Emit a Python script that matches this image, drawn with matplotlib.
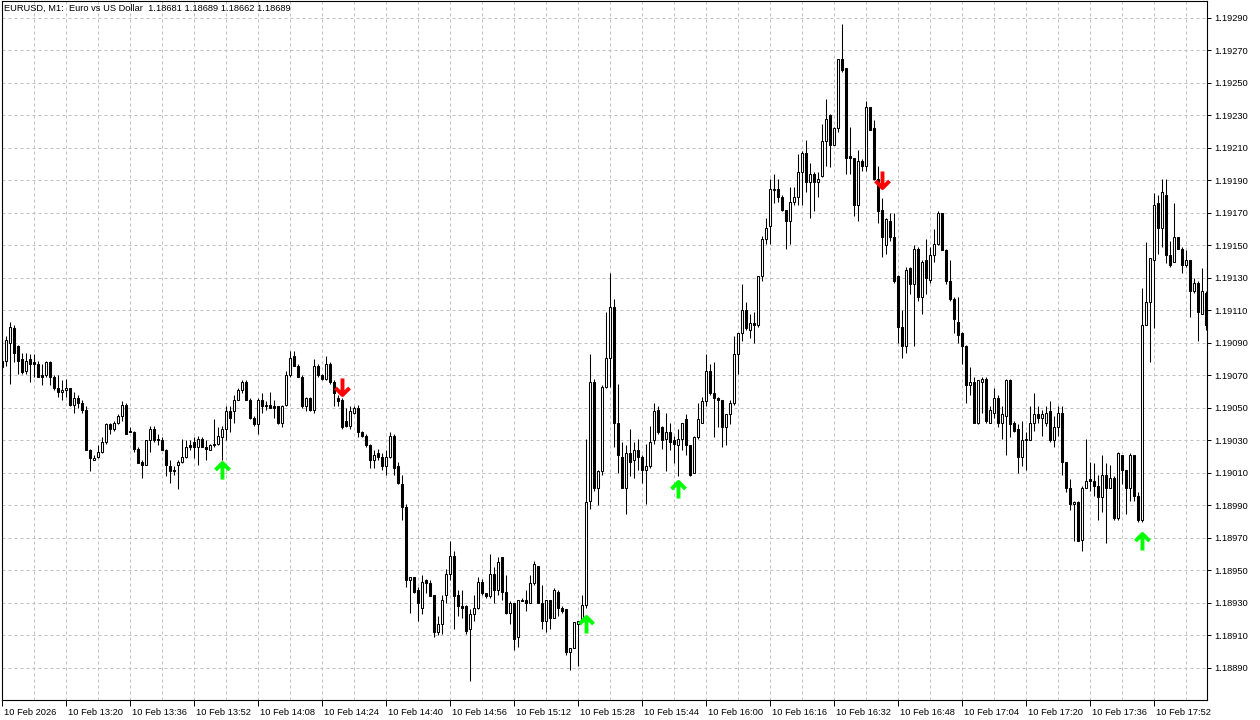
import matplotlib
matplotlib.use("Agg")
import matplotlib.pyplot as plt
import matplotlib.transforms as mtrans
from matplotlib.path import Path
import numpy as np

plt.rcParams['font.family'] = ['Liberation Sans', 'DejaVu Sans']

# EURUSD M1 candles, prices in points (1e-5)
opens = [
    119079, 119079, 119090, 119099, 119088, 119080, 119073, 119080, 119078, 119077,
    119070, 119070, 119078, 119069, 119062, 119060, 119061, 119062, 119052, 119056,
    119053, 119049, 119024, 119018, 119020, 119023, 119029, 119040, 119037, 119041,
    119045, 119052, 119036, 119035, 119025, 119017, 119015, 119030, 119037, 119031,
    119030, 119024, 119014, 119012, 119015, 119017, 119020, 119027, 119029, 119026,
    119031, 119026, 119024, 119027, 119028, 119032, 119037, 119048, 119048, 119055,
    119061, 119066, 119055, 119044, 119040, 119055, 119051, 119052, 119051, 119051,
    119041, 119052, 119070, 119082, 119076, 119069, 119051, 119056, 119049, 119076,
    119070, 119068, 119077, 119066, 119056, 119055, 119042, 119039, 119047, 119050,
    119035, 119033, 119027, 119018, 119022, 119020, 119014, 119020, 119033, 119014,
    119003, 118989, 118944, 118946, 118938, 118927, 118944, 118942, 118935, 118912,
    118917, 118935, 118948, 118959, 118935, 118928, 118928, 118914, 118923, 118927,
    118943, 118936, 118934, 118948, 118938, 118958, 118937, 118924, 118930, 118909,
    118932, 118932, 118930, 118942, 118953, 118930, 118919, 118932, 118921, 118937,
    118927, 118926, 118900, 118902, 118917, 118919, 118929, 118993, 119066, 119001,
    119011, 119063, 119081, 119112, 119041, 119020, 119001, 119022, 119018, 119024,
    119020, 119012, 119014, 119030, 119049, 119038, 119031, 119035, 119030, 119027,
    119031, 119043, 119027, 119010, 119032, 119041, 119054, 119073, 119059, 119056,
    119055, 119038, 119046, 119053, 119083, 119096, 119110, 119098, 119102, 119101,
    119131, 119154, 119162, 119184, 119185, 119180, 119172, 119165, 119177, 119180,
    119195, 119207, 119189, 119194, 119189, 119193, 119214, 119230, 119212, 119222,
    119265, 119259, 119205, 119204, 119175, 119202, 119199, 119235, 119222, 119191,
    119172, 119150, 119165, 119155, 119131, 119100, 119088, 119136, 119126, 119148,
    119118, 119141, 119129, 119144, 119151, 119170, 119147, 119128, 119117, 119103,
    119096, 119088, 119064, 119066, 119041, 119066, 119068, 119041, 119047, 119056,
    119041, 119045, 119067, 119041, 119037, 119020, 119030, 119030, 119041, 119046,
    119044, 119041, 119048, 119030, 119038, 119047, 119017, 119001, 118991, 118992,
    118969, 119001, 119006, 119005, 119002, 118995, 119009, 119001, 119007, 118982,
    119021, 119012, 119001, 119021, 118996, 118981, 119101, 119115, 119141, 119176,
    119161, 119181, 119144, 119140, 119155, 119148, 119138, 119141, 119122, 119127,
    119108, 119121,
]
highs = [
    119080, 119094, 119103, 119101, 119089, 119084, 119084, 119083, 119083, 119079,
    119077, 119079, 119079, 119070, 119070, 119067, 119068, 119062, 119060, 119058,
    119055, 119051, 119025, 119021, 119027, 119032, 119041, 119041, 119042, 119046,
    119054, 119053, 119038, 119036, 119026, 119018, 119030, 119039, 119039, 119034,
    119032, 119025, 119018, 119014, 119018, 119031, 119030, 119030, 119032, 119033,
    119032, 119030, 119028, 119043, 119038, 119039, 119051, 119051, 119058, 119062,
    119067, 119067, 119056, 119045, 119056, 119059, 119054, 119060, 119055, 119051,
    119052, 119073, 119085, 119085, 119077, 119070, 119057, 119057, 119080, 119077,
    119071, 119082, 119078, 119067, 119058, 119056, 119050, 119051, 119051, 119052,
    119036, 119034, 119028, 119024, 119025, 119022, 119024, 119035, 119034, 119017,
    119009, 118991, 118946, 118946, 118940, 118947, 118945, 118944, 118935, 118922,
    118935, 118951, 118968, 118962, 118938, 118938, 118929, 118926, 118935, 118946,
    118945, 118936, 118960, 118952, 118958, 118958, 118947, 118931, 118930, 118932,
    118933, 118938, 118947, 118956, 118953, 118941, 118932, 118932, 118939, 118938,
    118928, 118926, 118902, 118918, 118919, 118935, 119031, 119083, 119068, 119012,
    119064, 119109, 119133, 119117, 119065, 119029, 119027, 119037, 119029, 119031,
    119021, 119028, 119039, 119053, 119051, 119039, 119047, 119041, 119033, 119037,
    119041, 119046, 119027, 119033, 119053, 119057, 119083, 119077, 119078, 119057,
    119055, 119046, 119055, 119094, 119096, 119126, 119115, 119108, 119109, 119131,
    119156, 119167, 119191, 119194, 119191, 119181, 119172, 119186, 119186, 119206,
    119208, 119215, 119201, 119195, 119195, 119225, 119240, 119231, 119223, 119265,
    119286, 119259, 119223, 119204, 119209, 119203, 119239, 119235, 119227, 119199,
    119179, 119167, 119170, 119170, 119132, 119110, 119137, 119137, 119150, 119149,
    119141, 119154, 119149, 119160, 119171, 119170, 119148, 119141, 119118, 119118,
    119097, 119089, 119075, 119069, 119067, 119069, 119069, 119051, 119062, 119058,
    119051, 119068, 119068, 119042, 119040, 119042, 119035, 119051, 119059, 119051,
    119049, 119051, 119054, 119045, 119051, 119051, 119017, 119006, 118993, 118993,
    119002, 119031, 119017, 119016, 119009, 119021, 119016, 119015, 119008, 119023,
    119021, 119012, 119022, 119021, 118998, 119124, 119152, 119142, 119182, 119181,
    119191, 119191, 119153, 119176, 119155, 119149, 119147, 119141, 119130, 119128,
    119136, 119122,
]
lows = [
    119074, 119076, 119065, 119078, 119071, 119071, 119071, 119066, 119069, 119069,
    119064, 119069, 119064, 119061, 119057, 119055, 119057, 119051, 119047, 119050,
    119047, 119024, 119011, 119018, 119019, 119022, 119028, 119034, 119036, 119040,
    119042, 119034, 119035, 119023, 119016, 119007, 119015, 119023, 119029, 119027,
    119024, 119008, 119004, 119009, 119000, 119016, 119019, 119024, 119019, 119015,
    119026, 119018, 119024, 119026, 119027, 119018, 119030, 119035, 119041, 119055,
    119059, 119055, 119043, 119039, 119034, 119047, 119049, 119050, 119044, 119040,
    119038, 119051, 119069, 119076, 119069, 119050, 119048, 119048, 119047, 119069,
    119067, 119067, 119065, 119051, 119051, 119037, 119038, 119037, 119046, 119032,
    119032, 119026, 119013, 119013, 119018, 119012, 119009, 119019, 119009, 119003,
    118981, 118940, 118924, 118936, 118919, 118923, 118936, 118934, 118909, 118910,
    118911, 118930, 118944, 118914, 118922, 118921, 118911, 118882, 118919, 118926,
    118935, 118933, 118933, 118930, 118935, 118932, 118923, 118917, 118901, 118903,
    118931, 118925, 118930, 118941, 118930, 118914, 118912, 118914, 118921, 118922,
    118924, 118898, 118889, 118902, 118891, 118918, 118927, 118988, 118999, 118990,
    119009, 119062, 119063, 119026, 119010, 119001, 118985, 119008, 119007, 119012,
    119004, 118991, 119013, 119028, 119034, 119025, 119011, 119024, 119016, 119008,
    119024, 119021, 119008, 119010, 119031, 119041, 119051, 119058, 119032, 119038,
    119026, 119027, 119040, 119052, 119071, 119091, 119098, 119093, 119090, 119100,
    119128, 119151, 119151, 119176, 119177, 119171, 119148, 119151, 119175, 119175,
    119175, 119183, 119167, 119171, 119180, 119192, 119199, 119198, 119212, 119220,
    119257, 119194, 119194, 119168, 119165, 119196, 119196, 119221, 119190, 119164,
    119143, 119145, 119153, 119127, 119090, 119081, 119084, 119120, 119088, 119116,
    119108, 119120, 119127, 119140, 119150, 119147, 119126, 119116, 119096, 119090,
    119077, 119053, 119058, 119041, 119040, 119047, 119041, 119041, 119044, 119038,
    119031, 119021, 119032, 119035, 119010, 119014, 119012, 119030, 119036, 119041,
    119033, 119039, 119029, 119026, 119033, 119009, 118998, 118987, 118968, 118968,
    118962, 119001, 118999, 118996, 118981, 118986, 118967, 119001, 118981, 118981,
    119003, 118985, 118993, 118993, 118980, 118980, 119101, 119078, 119099, 119145,
    119149, 119139, 119137, 119140, 119148, 119133, 119137, 119106, 119121, 119091,
    119108, 119098,
]
closes = [
    119075, 119092, 119100, 119084, 119079, 119072, 119079, 119077, 119077, 119069,
    119069, 119078, 119069, 119062, 119060, 119061, 119062, 119052, 119056, 119053,
    119049, 119024, 119019, 119019, 119023, 119029, 119040, 119037, 119041, 119045,
    119052, 119034, 119035, 119025, 119016, 119015, 119030, 119037, 119030, 119030,
    119024, 119015, 119011, 119011, 119017, 119020, 119026, 119026, 119026, 119031,
    119026, 119025, 119027, 119028, 119033, 119037, 119048, 119044, 119055, 119061,
    119066, 119055, 119044, 119040, 119055, 119051, 119052, 119050, 119050, 119041,
    119051, 119070, 119081, 119076, 119069, 119051, 119056, 119049, 119076, 119070,
    119068, 119077, 119066, 119059, 119054, 119038, 119039, 119048, 119050, 119035,
    119033, 119027, 119018, 119021, 119020, 119014, 119020, 119033, 119013, 119004,
    118989, 118944, 118946, 118937, 118930, 118943, 118942, 118934, 118912, 118917,
    118932, 118948, 118959, 118934, 118928, 118927, 118913, 118923, 118927, 118943,
    118936, 118934, 118948, 118938, 118955, 118937, 118924, 118930, 118908, 118932,
    118931, 118930, 118942, 118954, 118930, 118919, 118932, 118921, 118938, 118927,
    118925, 118900, 118902, 118918, 118919, 118929, 118992, 119066, 119001, 119011,
    119063, 119081, 119112, 119041, 119021, 119001, 119022, 119017, 119024, 119020,
    119012, 119014, 119029, 119048, 119035, 119030, 119035, 119029, 119028, 119031,
    119041, 119027, 119009, 119032, 119043, 119054, 119073, 119059, 119056, 119055,
    119038, 119046, 119053, 119083, 119096, 119110, 119099, 119102, 119101, 119131,
    119154, 119161, 119185, 119185, 119180, 119172, 119165, 119177, 119180, 119195,
    119207, 119189, 119194, 119189, 119191, 119214, 119228, 119212, 119222, 119265,
    119258, 119204, 119204, 119175, 119202, 119199, 119235, 119221, 119191, 119171,
    119155, 119166, 119155, 119128, 119100, 119088, 119135, 119126, 119148, 119118,
    119140, 119130, 119144, 119151, 119170, 119147, 119128, 119117, 119105, 119095,
    119088, 119064, 119066, 119041, 119067, 119068, 119042, 119049, 119056, 119041,
    119046, 119067, 119040, 119036, 119020, 119030, 119031, 119041, 119046, 119044,
    119046, 119047, 119030, 119038, 119047, 119017, 119001, 118991, 118992, 118968,
    119001, 119005, 119005, 119002, 118995, 119009, 119001, 119007, 118982, 119022,
    119012, 119001, 119021, 118996, 118981, 119101, 119115, 119142, 119175, 119161,
    119183, 119144, 119138, 119155, 119148, 119138, 119141, 119122, 119127, 119109,
    119122, 119101,
]

# signal arrows: candle index and price (points)
buy_idx = [55, 146, 169, 285]
buy_price = [119012, 118917, 119000, 118968]
sell_idx = [85, 220]
sell_price = [119063, 119190]

time_labels = ['10 Feb 2026', '10 Feb 13:20', '10 Feb 13:36', '10 Feb 13:52',
               '10 Feb 14:08', '10 Feb 14:24', '10 Feb 14:40', '10 Feb 14:56',
               '10 Feb 15:12', '10 Feb 15:28', '10 Feb 15:44', '10 Feb 16:00',
               '10 Feb 16:16', '10 Feb 16:32', '10 Feb 16:48', '10 Feb 17:04',
               '10 Feb 17:20', '10 Feb 17:36', '10 Feb 17:52']
price_ticks = [1.18890 + 0.0002 * k for k in range(21)]
header = 'EURUSD, M1:  Euro vs US Dollar  1.18681 1.18689 1.18662 1.18689'

o = np.array(opens) / 1e5
h = np.array(highs) / 1e5
l = np.array(lows) / 1e5
c = np.array(closes) / 1e5
idx = np.arange(len(o))

W, H = 1260, 720
fig = plt.figure(figsize=(W / 100, H / 100), dpi=100)
ax = fig.add_axes([2 / W, 20 / H, 1205 / W, 699 / H])

grid_kw = dict(color='#c0c0c0', lw=0.72, ls=(0, (3, 3)), zorder=0)
for p in price_ticks:
    ax.axhline(p, **grid_kw)
for g in range(0, len(o), 8):
    ax.axvline(g, **grid_kw)

# wicks then bodies
ax.vlines(idx, l, h, color='black', lw=0.75, zorder=2)
up = c >= o
ax.bar(idx[up], (c - o)[up], bottom=o[up], width=0.55, facecolor='white',
       edgecolor='black', lw=0.75, zorder=3)
ax.bar(idx[~up], (c - o)[~up], bottom=o[~up], width=0.55, facecolor='black',
       edgecolor='black', lw=0.75, zorder=3)

# arrow markers
verts = [(0, -9), (0, 7.5), (-7, 0.5), (0, 7.5), (7, 0.5)]
codes = [Path.MOVETO, Path.LINETO, Path.MOVETO, Path.LINETO, Path.LINETO]
up_arrow = Path(verts, codes)
down_arrow = Path([(x, -y) for x, y in verts], codes)
ax.plot(buy_idx, np.array(buy_price) / 1e5, ls='none', marker=up_arrow,
        ms=13, mfc='none', mec='#00ff00', mew=2.8, zorder=5)
ax.plot(sell_idx, np.array(sell_price) / 1e5, ls='none', marker=down_arrow,
        ms=13, mfc='none', mec='#ff0000', mew=2.8, zorder=5)

ax.set_xlim(-0.075, 301.175)
ax.set_ylim(1.188703, 1.1930046)

ax.yaxis.tick_right()
ax.set_yticks(price_ticks)
ax.set_yticklabels(['%.5f' % p for p in price_ticks])
ax.set_xticks(range(0, 16 * len(time_labels), 16))
ax.set_xticklabels(time_labels)
ax.tick_params(axis='y', direction='out', length=3, width=0.72, pad=2,
               labelsize=6.7, colors='black')
ax.tick_params(axis='x', direction='out', length=4, width=0.72, pad=1.5,
               labelsize=6.7, colors='black')
offset = mtrans.ScaledTranslation(2 / 100, 0, fig.dpi_scale_trans)
for lab in ax.get_xticklabels():
    lab.set_horizontalalignment('left')
    lab.set_transform(lab.get_transform() + offset)
for s in ax.spines.values():
    s.set_linewidth(0.8)
    s.set_color('black')

fig.text(4 / W, 1 - 8 / H, header, fontsize=6.7, ha='left', va='center')

fig.savefig('out.png', dpi=100)
